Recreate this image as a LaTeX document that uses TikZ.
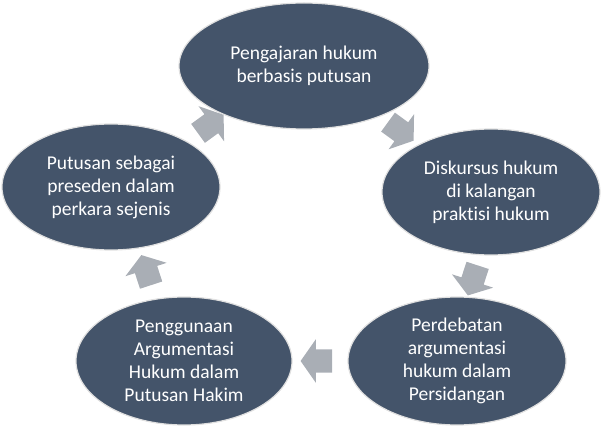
\documentclass[tikz,border=0pt]{standalone}
\usepackage{fontspec}
\setmainfont{Carlito}[Ligatures=NoCommon]
\usetikzlibrary{shapes.geometric,shapes.arrows,calc}
\definecolor{slate}{HTML}{44546A}
\definecolor{arrowgray}{HTML}{A9AEB5}
\tikzset{
  stage/.style={ellipse, fill=slate, draw=black!12, line width=1.2pt,
    text=white, align=center, inner sep=0pt,
    font=\fontsize{19.5}{23}\selectfont},
  flow/.style={single arrow, fill=arrowgray, inner sep=11.5pt,
    minimum height=30pt, single arrow head extend=10pt,
    single arrow tip angle=110}
}

\begin{document}
\begin{tikzpicture}[x=1pt,y=-1pt]
  \useasboundingbox (0,0) rectangle (602,430);
  \node[stage, minimum width=250pt, minimum height=126pt] (teach) at (304,66)
    {Pengajaran hukum\\berbasis putusan};
  \node[stage, minimum width=218pt, minimum height=126pt] (discourse) at (491,192)
    {Diskursus hukum\\di kalangan\\praktisi hukum};
  \node[stage, minimum width=218pt, minimum height=128pt] (debate) at (457,361)
    {Perdebatan\\argumentasi\\hukum dalam\\Persidangan};
  \node[stage, minimum width=216pt, minimum height=128pt] (argue) at (184,361)
    {Penggunaan\\Argumentasi\\Hukum dalam\\Putusan Hakim};
  \node[stage, minimum width=218pt, minimum height=126pt] (precedent) at (111,187)
    {Putusan sebagai\\preseden dalam\\perkara sejenis};

  % arrows between the stages
  \node[flow, rotate=-36] (a1) at ($(teach)!0.5!(discourse)$) {};
  \node[flow, rotate=-108] (a2) at ($(discourse)!0.5!(debate)$) {};
  \node[flow, rotate=180] (a3) at ($(debate)!0.5!(argue)$) {};
  \node[flow, rotate=108] (a4) at ($(argue)!0.5!(precedent)$) {};
  \node[flow, rotate=36] (a5) at ($(precedent)!0.5!(teach)$) {};
\end{tikzpicture}
\end{document}
